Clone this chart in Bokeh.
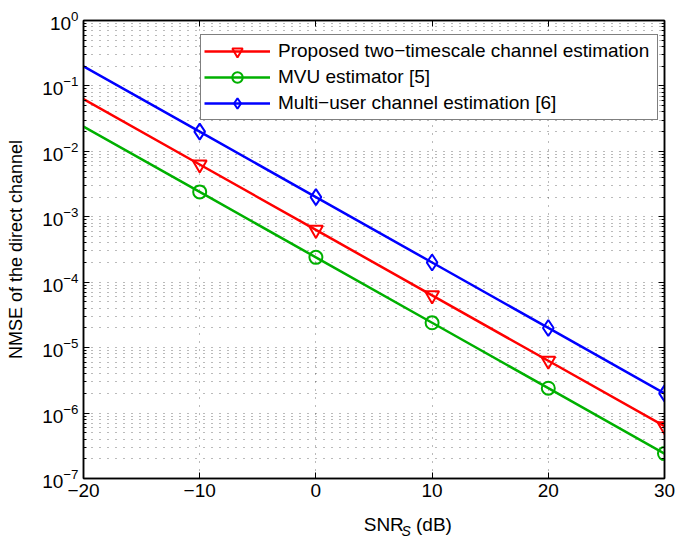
from bokeh.plotting import figure
from bokeh.layouts import column
from bokeh.core.properties import value
from bokeh.models import (LogAxis, LinearAxis, FixedTicker, CustomJSTickFormatter,
                          Legend, LegendItem, Range1d)
from bokeh.embed import file_html
from bokeh.resources import INLINE

# ---- data ----
snr_db = [-20, -10, 0, 10, 20, 30]
nmse_proposed = [6.3e-2, 6.3e-3, 6.3e-4, 6.3e-5, 6.3e-6, 6.3e-7]
nmse_mvu = [2.4e-2, 2.4e-3, 2.4e-4, 2.4e-5, 2.4e-6, 2.4e-7]
nmse_multiuser = [2.0e-1, 2.0e-2, 2.0e-3, 2.0e-4, 2.0e-5, 2.0e-6]
series_names = ["Proposed two\u2212timescale channel estimation",
                "MVU estimator [5]",
                "Multi\u2212user channel estimation [6]"]
x_ticks = [-20, -10, 0, 10, 20, 30]
y_decades = list(range(-7, 1))
x_label_parts = ["SNR", "S", "(dB)"]

FONT = "Liberation Sans"
FS = "19px"
GRID_COLOR = "#3a3a3a"

p = figure(width=678, height=505, y_axis_type="log",
           x_range=Range1d(-20, 30), y_range=Range1d(1e-7, 1),
           output_backend="svg", toolbar_location=None,
           min_border_left=83, min_border_right=14,
           min_border_top=20, min_border_bottom=27)
p.outline_line_color = "black"
p.outline_line_width = 1.5
p.background_fill_color = "white"
p.border_fill_color = "white"

xticker = FixedTicker(ticks=x_ticks)
yticker = FixedTicker(ticks=[10.0 ** e for e in y_decades],
                      minor_ticks=[m * 10.0 ** e for e in y_decades[:-1] for m in range(2, 10)])

p.xaxis.ticker = xticker
p.yaxis.ticker = yticker
p.xaxis.formatter = CustomJSTickFormatter(
    code="return tick < 0 ? '\u2212' + String(-tick) : String(tick);")

for ax in p.axis:
    ax.major_tick_in = 6
    ax.major_tick_out = 0
    ax.minor_tick_in = 3
    ax.minor_tick_out = 0
    ax.axis_line_width = 1.5
    ax.major_tick_line_width = 1
    ax.minor_tick_line_width = 1
    ax.major_label_text_font = FONT
    ax.major_label_text_font_size = FS
    ax.major_label_text_color = "black"
    ax.axis_line_color = "black"
p.xaxis.minor_tick_line_color = None
p.xaxis.major_label_standoff = 5
p.yaxis.major_label_standoff = 5

p.yaxis.axis_label = "NMSE of the direct channel"
p.yaxis.axis_label_text_font = FONT
p.yaxis.axis_label_text_font_size = "18px"
p.yaxis.axis_label_text_font_style = "normal"
p.yaxis.axis_label_text_color = "black"
p.yaxis.axis_label_standoff = 13

empty = CustomJSTickFormatter(code="return '';")
right_ax = LogAxis(ticker=yticker, formatter=empty, major_label_text_font_size="0px",
                   major_label_standoff=0, major_tick_in=6, major_tick_out=0,
                   minor_tick_in=3, minor_tick_out=0, axis_line_width=1.5)
top_ax = LinearAxis(ticker=xticker, formatter=empty, major_label_text_font_size="0px",
                    major_label_standoff=0, major_tick_in=6, major_tick_out=0,
                    minor_tick_line_color=None, axis_line_width=1.5)
p.add_layout(right_ax, "right")
p.add_layout(top_ax, "above")

for g in (p.xgrid, p.ygrid):
    g.grid_line_color = GRID_COLOR
    g.grid_line_dash = "1 7"
    g.grid_line_width = 1
    g.grid_line_alpha = 0.7
p.ygrid.minor_grid_line_color = GRID_COLOR
p.ygrid.minor_grid_line_dash = "1 7"
p.ygrid.minor_grid_line_width = 1
p.ygrid.minor_grid_line_alpha = 0.7

series = [
    (nmse_proposed, "#ff0000", "inverted_triangle", 14),
    (nmse_mvu, "#00b000", "circle", 13),
    (nmse_multiuser, "#0000ff", "diamond", 16),
]
items = []
for (vals, color, marker, size), name in zip(series, series_names):
    ln = p.line(snr_db, vals, line_color=color, line_width=2.5)
    sc = p.scatter(snr_db[1:], vals[1:], marker=marker, size=size,
                   line_color=color, line_width=2, fill_color=None)
    items.append(LegendItem(label=name, renderers=[ln, sc]))

legend = Legend(items=items, location=(117, 358))
legend.border_line_color = "black"
legend.border_line_width = 1.2
legend.background_fill_color = "white"
legend.background_fill_alpha = 1
legend.label_text_font = FONT
legend.label_text_font_size = FS
legend.label_text_color = "black"
legend.padding = 3
legend.spacing = 0
legend.label_height = 20
legend.glyph_height = 26
legend.glyph_width = 66
legend.label_standoff = 8
legend.label_width = 376
legend.margin = 0
p.add_layout(legend)

# ---- x-axis label strip: "SNR" with italic subscript S, then "(dB)" ----
lab = figure(width=678, height=32, x_range=Range1d(0, 678), y_range=Range1d(0, 32),
             output_backend="svg", toolbar_location=None,
             x_axis_location=None, y_axis_location=None, min_border=0)
lab.grid.visible = False
lab.outline_line_color = None
lab.text(x=[327], y=[13], text=[x_label_parts[0]], text_font=value(FONT),
         text_font_size=FS, text_baseline="alphabetic", text_align="left", text_color="black")
lab.text(x=[371], y=[7], text=[x_label_parts[1]], text_font=value(FONT),
         text_font_size="14px", text_font_style="italic", text_baseline="alphabetic",
         text_align="left", text_color="black")
lab.text(x=[388], y=[13], text=[x_label_parts[2]], text_font=value(FONT),
         text_font_size=FS, text_baseline="alphabetic", text_align="left", text_color="black")

open("out.html", "w").write(file_html(column(p, lab, spacing=0), INLINE))
